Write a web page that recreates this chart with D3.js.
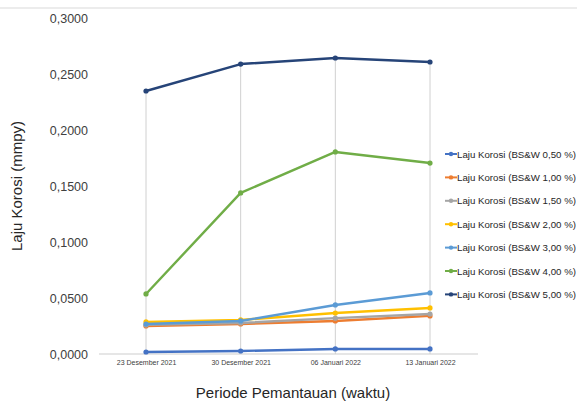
<!DOCTYPE html>
<html><head><meta charset="utf-8">
<script src="https://cdn.jsdelivr.net/npm/d3@7"></script>
<style>body{margin:0;background:#fff;} svg{display:block;font-family:Arial,"Liberation Sans",sans-serif;}</style>
</head><body><svg id="c" width="577" height="401"></svg>
<script>
const categories = ["23 Desember 2021","30 Desember 2021","06 Januari 2022","13 Januari 2022"];
const seriesNames = ["Laju Korosi (BS&W 0,50 %)","Laju Korosi (BS&W 1,00 %)","Laju Korosi (BS&W 1,50 %)","Laju Korosi (BS&W 2,00 %)","Laju Korosi (BS&W 3,00 %)","Laju Korosi (BS&W 4,00 %)","Laju Korosi (BS&W 5,00 %)"];
const s050 = [0.0018,0.0027,0.0045,0.0045];
const s100 = [0.0250,0.0268,0.0295,0.0340];
const s150 = [0.0260,0.0277,0.0320,0.0357];
const s200 = [0.0286,0.0304,0.0366,0.0411];
const s300 = [0.0268,0.0295,0.0438,0.0545];
const s400 = [0.0536,0.1438,0.1804,0.1705];
const s500 = [0.2348,0.2589,0.2643,0.2607];
const yTicks = [0,0.05,0.1,0.15,0.2,0.25,0.3];
const colors = ["#4472C4","#ED7D31","#A5A5A5","#FFC000","#5B9BD5","#70AD47","#264478"];
const series = [s050,s100,s150,s200,s300,s400,s500];

const svg = d3.select("#c");
svg.append("line").attr("x1",0).attr("x2",577).attr("y1",8).attr("y2",8).attr("stroke","#d9d9d9").attr("stroke-width",1);

const x = d3.scalePoint().domain(categories).range([146,430]);
const y = d3.scaleLinear().domain([0,0.3]).range([354,18]);

// baseline
svg.append("line").attr("x1",99).attr("x2",478).attr("y1",y(0)).attr("y2",y(0)).attr("stroke","#e6e6e6").attr("stroke-width",2);

// drop lines
categories.forEach((c,i)=>{
  const top = d3.max(series, s=>s[i]);
  svg.append("line").attr("x1",x(c)).attr("x2",x(c)).attr("y1",y(top)).attr("y2",y(0)).attr("stroke","#d0d0d0").attr("stroke-width",1);
});

// y axis labels
const yAxis = d3.axisLeft(y).tickValues(yTicks).tickSize(0).tickPadding(0).tickFormat(d=>d3.format(".4f")(d).replace(".",","));
const ga = svg.append("g").attr("transform","translate(88,0)").call(yAxis);
ga.select(".domain").remove();
ga.selectAll("text").attr("font-size",12.5).attr("fill","#404040").attr("font-family","Arial,'Liberation Sans',sans-serif");

// x axis labels
const xAxis = d3.axisBottom(x).tickSize(0).tickPadding(0);
const gx = svg.append("g").attr("transform","translate(0,360)").call(xAxis);
gx.select(".domain").remove();
gx.selectAll("text").attr("font-size",7).attr("fill","#404040").attr("font-family","Arial,'Liberation Sans',sans-serif");

// lines
const line = d3.line().x((d,i)=>x(categories[i])).y(d=>y(d));
series.forEach((s,k)=>{
  svg.append("path").datum(s).attr("d",line).attr("fill","none").attr("stroke",colors[k]).attr("stroke-width",2.4).attr("stroke-linejoin","round");
  svg.selectAll(null).data(s).enter().append("circle").attr("cx",(d,i)=>x(categories[i])).attr("cy",d=>y(d)).attr("r",2.6).attr("fill",colors[k]);
});

// axis titles
svg.append("text").attr("transform","translate(22,186) rotate(-90)").attr("text-anchor","middle").attr("font-size",15).attr("fill","#262626").text("Laju Korosi (mmpy)");
svg.append("text").attr("x",293).attr("y",398).attr("text-anchor","middle").attr("font-size",15).attr("fill","#262626").text("Periode Pemantauan (waktu)");

// legend
const lg = svg.append("g");
seriesNames.forEach((n,k)=>{
  const yy = 154 + k*23.4;
  lg.append("line").attr("x1",445).attr("x2",457).attr("y1",yy).attr("y2",yy).attr("stroke",colors[k]).attr("stroke-width",2);
  lg.append("circle").attr("cx",451).attr("cy",yy).attr("r",2.2).attr("fill",colors[k]);
  lg.append("text").attr("x",457).attr("y",yy+3.5).attr("font-size",9.7).attr("fill","#262626").text(n);
});
</script></body></html>
